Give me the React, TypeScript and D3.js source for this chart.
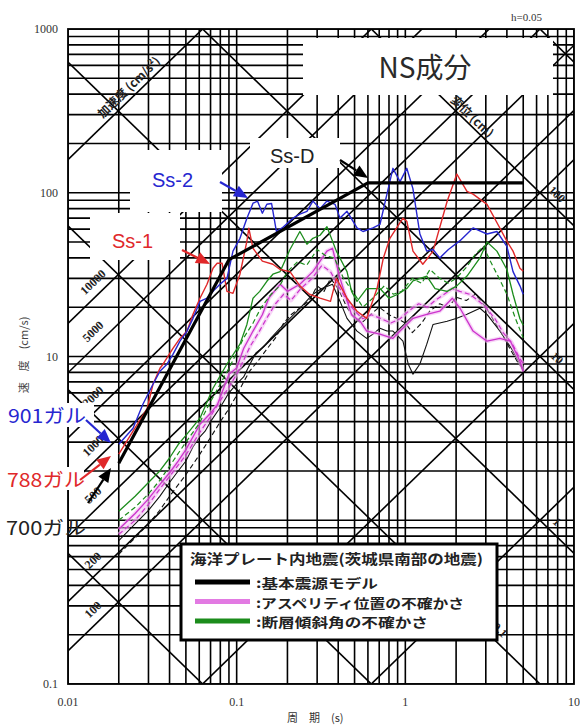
import React from 'react';
import * as d3 from 'd3';

const W = 580;
const H = 725;

// axis ticks (the "1" label is hidden under the 700ガル label in the reference)
const periodTicks = [0.01, 0.1, 1, 10];
const periodTickLabels = ['0.01', '0.1', '1', '10'];
const velocityTicks = [0.1, 10, 100, 1000];
const velocityTickLabels = ['0.1', '10', '100', '1000'];

// tripartite guide lines
const accelerationLines = [1, 10, 100, 200, 500, 1000, 2000, 5000, 10000, 100000];
const accelerationLabels = [100, 200, 500, 1000, 2000, 5000, 10000];
const displacementLines = [0.001, 0.01, 0.1, 1, 10, 100, 1000];
const displacementLabels = [0.1, 1, 10, 100];

// design spectrum Ss-D
const ssDPeriods = [0.02, 0.09, 0.6, 5.0];
const ssDVelocity = [2.23, 39, 115, 115];

// Ss-1 (red)
const ss1: [number, number][] = [
  [0.02, 2.53], [0.0243, 3.5], [0.0295, 4.83], [0.0319, 6.77], [0.0351, 8.48], [0.0366, 8.97],
  [0.0419, 11.2], [0.0461, 12.9], [0.0508, 14.3], [0.0551, 18.1], [0.0606, 22.7], [0.0667, 27.6],
  [0.0724, 34.6], [0.0766, 37.1], [0.082, 37.1], [0.0876, 25], [0.0951, 24.3], [0.1046, 31.8],
  [0.115, 50.6], [0.118, 60.7], [0.125, 45.8], [0.142, 38.2], [0.164, 36.6], [0.181, 34],
  [0.207, 33], [0.237, 27], [0.27, 24], [0.312, 22.7], [0.36, 21.7], [0.39, 30], [0.451, 22.7],
  [0.517, 18.9], [0.59, 17.1], [0.68, 26.1], [0.74, 39.8], [0.81, 52.7], [0.968, 69.9], [1.02, 67],
  [1.11, 44], [1.27, 36.6], [1.46, 44], [1.77, 88.8], [2.02, 130], [2.32, 102], [2.52, 98],
  [3.05, 85], [3.64, 60.7], [4.0, 50.6], [4.35, 44], [4.78, 34.6], [5.0, 33.2],
];

// Ss-2 (blue)
const ss2: [number, number][] = [
  [0.02, 2.91], [0.0243, 3.65], [0.0278, 5.11], [0.0319, 6.77], [0.0351, 8.13], [0.0386, 8.97],
  [0.0419, 10.3], [0.0461, 12.4], [0.0508, 14.3], [0.0551, 17.1], [0.0606, 21.7], [0.0667, 22.7],
  [0.0724, 25.0], [0.0796, 27.6], [0.0876, 30.0], [0.0951, 44], [0.1046, 52.7], [0.115, 69.9],
  [0.125, 86.3], [0.133, 88.8], [0.142, 75], [0.151, 85], [0.161, 86], [0.172, 58], [0.186, 61],
  [0.216, 70], [0.237, 74], [0.261, 77], [0.283, 89], [0.312, 80], [0.343, 89], [0.383, 85],
  [0.41, 70], [0.451, 77], [0.517, 61], [0.561, 58], [0.643, 61], [0.707, 64], [0.778, 98],
  [0.844, 141], [0.93, 117], [1.02, 141], [1.109, 106], [1.17, 74], [1.22, 56], [1.34, 44],
  [1.46, 45], [1.6, 40], [1.8, 45], [2.11, 51], [2.52, 61], [3.05, 56], [3.49, 58], [4.0, 47],
  [4.35, 33], [4.78, 27], [5.0, 24],
];

// base model (black) solid / dashed
const baseSolid: [number, number][] = [
  [0.02, 0.75], [0.025, 0.95], [0.03, 1.15], [0.035, 1.4], [0.04, 1.7], [0.045, 2.0], [0.05, 2.3],
  [0.055, 2.8], [0.06, 3.2], [0.065, 3.5], [0.07, 4.0], [0.08, 4.9], [0.09, 6.0], [0.1, 6.8],
  [0.11, 7.5], [0.12, 9.0], [0.13, 10.5], [0.145, 11.5], [0.16, 13], [0.181, 14.9], [0.2, 16.5],
  [0.237, 19.7], [0.283, 24], [0.32, 26], [0.37, 27.6], [0.41, 21.7], [0.451, 17.1], [0.517, 14.3],
  [0.59, 12.9], [0.643, 13.7], [0.707, 14.9], [0.778, 14.3], [0.844, 14.3], [0.968, 12.4],
  [1.04, 9.0], [1.11, 7.8], [1.22, 9.0], [1.34, 11.9], [1.46, 15.7], [1.77, 16.4], [2.02, 17.1],
  [2.32, 18.1], [2.77, 19.7], [3.05, 18.1], [3.64, 14.3], [4.35, 10.8], [4.78, 9.0], [5.0, 8.1],
];
const baseDashed: [number, number][] = [
  [0.02, 0.62], [0.025, 0.78], [0.03, 0.95], [0.035, 1.15], [0.04, 1.4], [0.05, 1.9], [0.06, 2.5],
  [0.07, 3.2], [0.08, 4.0], [0.09, 4.8], [0.1, 5.8], [0.11, 7.0], [0.12, 8.2], [0.135, 9.5],
  [0.15, 11], [0.17, 13], [0.19, 16], [0.21, 18], [0.24, 20], [0.27, 22], [0.3, 27], [0.33, 25],
  [0.36, 30], [0.4, 26], [0.45, 20], [0.5, 17], [0.55, 16], [0.62, 18], [0.7, 20], [0.8, 18],
  [0.9, 17], [1.0, 16], [1.1, 14], [1.25, 16], [1.4, 19], [1.6, 21], [1.8, 20], [2.0, 23],
  [2.3, 22], [2.6, 24], [3.0, 20], [3.3, 17], [3.7, 14], [4.2, 11], [4.7, 9], [5.0, 8.5],
];

// asperity position uncertainty (magenta)
const asperitySolid: [number, number][] = [
  [0.02, 0.88], [0.025, 1.1], [0.03, 1.35], [0.035, 1.65], [0.04, 1.95], [0.045, 2.3], [0.05, 2.7],
  [0.0606, 3.86], [0.07, 4.5], [0.077, 5.1], [0.09, 7.8], [0.1, 8.5], [0.11, 11.2], [0.125, 14.3],
  [0.142, 18], [0.155, 22.7], [0.181, 27.6], [0.2, 25], [0.237, 27.6], [0.283, 33], [0.343, 44],
  [0.37, 45.8], [0.41, 30], [0.48, 18], [0.54, 16.4], [0.59, 14.3], [0.707, 13.7], [0.844, 12.9],
  [0.93, 14.3], [1.11, 17.1], [1.34, 18.1], [1.6, 18.9], [1.9, 22.7], [2.11, 19.7], [2.52, 14.3],
  [3.05, 12.4], [3.64, 12.9], [4.2, 12.4], [4.78, 9.35], [5.0, 8.1],
];
const asperityDashed: [number, number][] = [
  [0.02, 0.82], [0.025, 1.0], [0.03, 1.25], [0.035, 1.55], [0.04, 1.85], [0.05, 2.5], [0.06, 3.4],
  [0.07, 4.3], [0.08, 5.4], [0.09, 6.5], [0.1, 7.8], [0.11, 9.5], [0.12, 11.5], [0.135, 14],
  [0.15, 17], [0.17, 21], [0.19, 24], [0.21, 22], [0.24, 26], [0.28, 30], [0.32, 36], [0.36, 33],
  [0.4, 27], [0.45, 22], [0.5, 19], [0.56, 17], [0.63, 18], [0.72, 17], [0.82, 16], [0.93, 17],
  [1.05, 19], [1.2, 21], [1.35, 20], [1.5, 22], [1.7, 24], [1.9, 26], [2.1, 25], [2.4, 24],
  [2.7, 22], [3.0, 20], [3.4, 17], [3.8, 14], [4.3, 12], [4.7, 10], [5.0, 9],
];

// fault dip angle uncertainty (green)
const dipSolid: [number, number][] = [
  [0.02, 1.135], [0.025, 1.4], [0.03, 1.7], [0.035, 2.0], [0.04, 2.4], [0.045, 2.9], [0.05, 3.3],
  [0.0606, 4.2], [0.0724, 6.4], [0.0876, 9.0], [0.1046, 11.9], [0.115, 15.7], [0.125, 22.7],
  [0.137, 25], [0.151, 28.8], [0.164, 31.8], [0.181, 33], [0.207, 45], [0.237, 58], [0.261, 48.5],
  [0.283, 52.7], [0.312, 55], [0.343, 62], [0.39, 44], [0.451, 33], [0.48, 25], [0.517, 21.7],
  [0.59, 26], [0.707, 26], [0.8, 22.7], [0.904, 24], [1.02, 26], [1.11, 29], [1.34, 31], [1.5, 26],
  [1.77, 25], [2.02, 27], [2.32, 31], [2.77, 40], [3.05, 50], [3.49, 44], [4.0, 34], [4.35, 24],
  [4.78, 17], [5.0, 15.5],
];
const dipDashed: [number, number][] = [
  [0.02, 1.0], [0.025, 1.2], [0.03, 1.45], [0.035, 1.75], [0.042, 2.3], [0.05, 3.0], [0.06, 3.9],
  [0.07, 5.3], [0.08, 6.8], [0.09, 8.5], [0.1, 10.5], [0.11, 13], [0.125, 16], [0.14, 20],
  [0.16, 24], [0.18, 27], [0.2, 33], [0.23, 38], [0.26, 36], [0.3, 45], [0.34, 41], [0.38, 40],
  [0.43, 30], [0.5, 24], [0.56, 20], [0.65, 23], [0.75, 27], [0.85, 24], [0.95, 25], [1.1, 30],
  [1.25, 28], [1.4, 34], [1.6, 30], [1.8, 28], [2.0, 30], [2.3, 35], [2.6, 42], [2.9, 47],
  [3.2, 38], [3.6, 30], [4.0, 24], [4.5, 17], [5.0, 13],
];

const legendTitle = '海洋プレート内地震(茨城県南部の地震)';
const legendItems = [':基本震源モデル', ':アスペリティ位置の不確かさ', ':断層傾斜角の不確かさ'];
const legendWidths = [122, 208, 172];
const legendColors = ['#000000', '#e27ae2', '#1c8c1c'];

const TWO_PI = 2 * Math.PI;

function Arrow({ x1, y1, x2, y2, color }: { x1: number; y1: number; x2: number; y2: number; color: string }) {
  const ang = Math.atan2(y2 - y1, x2 - x1);
  const hl = 14;
  const hw = 6;
  const bx = x2 - hl * Math.cos(ang);
  const by = y2 - hl * Math.sin(ang);
  const px = -Math.sin(ang) * hw;
  const py = Math.cos(ang) * hw;
  return (
    <g>
      <line x1={x1} y1={y1} x2={bx} y2={by} stroke={color} strokeWidth={2.2} />
      <polygon points={`${x2},${y2} ${bx + px},${by + py} ${bx - px},${by - py}`} fill={color} />
    </g>
  );
}

export default function App() {
  const xS = d3.scaleLog().domain([0.01, 10]).range([68, 574]);
  const yS = d3.scaleLog().domain([0.1, 1000]).range([684, 29]);
  const x0 = 68, x1 = 574, y0 = 29, y1 = 684;
  const line = d3.line<[number, number]>().x((d) => xS(d[0])).y((d) => yS(d[1]));
  const ssD: [number, number][] = ssDPeriods.map((t, i) => [t, ssDVelocity[i]]);

  const diagAngle = (Math.atan((y1 - y0) / 4 / ((x1 - x0) / 3)) * 180) / Math.PI;
  const gridColor = '#000';
  const gw = 1.6;

  const accLine = (a: number) => ({
    xa: xS(0.001), ya: yS((a * 0.001) / TWO_PI), xb: xS(100), yb: yS((a * 100) / TWO_PI),
  });
  const dispLine = (d: number) => ({
    xa: xS(0.001), ya: yS((TWO_PI * d) / 0.001), xb: xS(100), yb: yS((TWO_PI * d) / 100),
  });

  const accLabelX = 93;
  const accLabelT = xS.invert(accLabelX);
  const dispLabelX: Record<string, number> = { '0.1': 500, '1': 557, '10': 557, '100': 557 };

  const jp = '"Noto Sans CJK JP", "Noto Sans", sans-serif';
  const serif = '"Liberation Serif", "DejaVu Serif", serif';
  const sans = '"Liberation Sans", Arial, sans-serif';

  const accTitleT = xS.invert(128);
  const dispTitleT = xS.invert(473);

  return (
    <svg width={W} height={H} style={{ position: 'absolute', left: 0, top: 0, background: '#fff' }}>
      <defs>
        <clipPath id="plot">
          <rect x={x0} y={y0} width={x1 - x0} height={y1 - y0} />
        </clipPath>
      </defs>
      <rect x={0} y={0} width={W} height={H} fill="#fff" />
      <g clipPath="url(#plot)">
        {xS.ticks().map((t, i) => (
          <line key={'vx' + i} x1={xS(t)} x2={xS(t)} y1={y0} y2={y1} stroke={gridColor} strokeWidth={gw} />
        ))}
        {yS.ticks().map((v, i) => (
          <line key={'hy' + i} x1={x0} x2={x1} y1={yS(v)} y2={yS(v)} stroke={gridColor} strokeWidth={gw} />
        ))}
        {accelerationLines.map((a) => {
          const p = accLine(a);
          return <line key={'a' + a} x1={p.xa} y1={p.ya} x2={p.xb} y2={p.yb} stroke={gridColor} strokeWidth={gw} />;
        })}
        {displacementLines.map((d) => {
          const p = dispLine(d);
          return <line key={'d' + d} x1={p.xa} y1={p.ya} x2={p.xb} y2={p.yb} stroke={gridColor} strokeWidth={gw} />;
        })}
      </g>
      <rect x={x0} y={y0} width={x1 - x0} height={y1 - y0} fill="none" stroke={gridColor} strokeWidth={1.8} />

      {/* tripartite labels */}
      {accelerationLabels.map((a) => {
        const y = yS((a * accLabelT) / TWO_PI) - 17;
        return (
          <text key={'al' + a} x={accLabelX} y={y} transform={`rotate(${-diagAngle},${accLabelX},${y})`}
            textAnchor="middle" dominantBaseline="central" fontFamily={serif} fontWeight={700} fontSize={12} fill="#222">
            {a}
          </text>
        );
      })}
      {(() => {
        const x = 128;
        const y = yS((100000 * accTitleT) / TWO_PI) - 15;
        return (
          <text x={x} y={y} transform={`rotate(${-diagAngle},${x},${y})`} textAnchor="middle" dominantBaseline="central"
            fontFamily={jp} fontWeight={700} fontSize={12} fill="#222">加速度 (cm/s²)</text>
        );
      })()}
      {displacementLabels.map((d) => {
        const x = dispLabelX[String(d)];
        const t = xS.invert(x);
        const y = yS((TWO_PI * d) / t) - 15;
        return (
          <text key={'dl' + d} x={x} y={y} transform={`rotate(${diagAngle},${x},${y})`}
            textAnchor="middle" dominantBaseline="central" fontFamily={serif} fontWeight={700} fontSize={12} fill="#222">
            {d}
          </text>
        );
      })}
      {(() => {
        const x = 473;
        const y = yS((TWO_PI * 100) / dispTitleT) - 12;
        return (
          <text x={x} y={y} transform={`rotate(${diagAngle},${x},${y})`} textAnchor="middle" dominantBaseline="central"
            fontFamily={jp} fontWeight={700} fontSize={12} fill="#222">変位 (cm)</text>
        );
      })()}

      {/* white label backgrounds */}
      <rect x={303} y={38} width={250} height={57} fill="#fff" />
      <rect x={250} y={138} width={90} height={30} fill="#fff" />
      <rect x={130} y={150} width={92} height={62} fill="#fff" />
      <rect x={90} y={213} width={90} height={47} fill="#fff" />

      {/* spectra */}
      <g fill="none" strokeLinejoin="round">
        <path d={line(baseDashed) || ''} stroke="#111" strokeWidth={1.1} strokeDasharray="5,3" />
        <path d={line(baseSolid) || ''} stroke="#111" strokeWidth={1.1} />
        <path d={line(asperityDashed) || ''} stroke="#f2b8f2" strokeWidth={4} opacity={0.6} />
        <path d={line(asperitySolid) || ''} stroke="#f2b8f2" strokeWidth={4} opacity={0.6} />
        <path d={line(asperityDashed) || ''} stroke="#cc33cc" strokeWidth={1.2} strokeDasharray="5,3" />
        <path d={line(asperitySolid) || ''} stroke="#cc33cc" strokeWidth={1.3} />
        <path d={line(dipDashed) || ''} stroke="#1c8c1c" strokeWidth={1.2} strokeDasharray="5,3" />
        <path d={line(dipSolid) || ''} stroke="#1c8c1c" strokeWidth={1.3} />
        <path d={line(ss1) || ''} stroke="#e0282a" strokeWidth={1.4} />
        <path d={line(ss2) || ''} stroke="#2626d0" strokeWidth={1.4} />
        <path d={line(ssD) || ''} stroke="#000" strokeWidth={3.2} />
      </g>

      {/* axis labels */}
      {velocityTicks.map((v, i) => (
        <text key={'yt' + i} x={58} y={yS(v) + 4} textAnchor="end" fontFamily={serif} fontSize={12} fill="#333">
          {velocityTickLabels[i]}
        </text>
      ))}
      {periodTicks.map((t, i) => (
        <text key={'xt' + i} x={xS(t)} y={706} textAnchor="middle" fontFamily={serif} fontSize={12} fill="#333">
          {periodTickLabels[i]}
        </text>
      ))}
      <text x={287} y={722} fontFamily={jp} fontSize={11} fill="#333">周　期　(s)</text>
      <text x={23} y={355} transform="rotate(-90,23,355)" textAnchor="middle" dominantBaseline="central"
        fontFamily={jp} fontSize={11} fill="#444">速　度　(cm/s)</text>
      <text x={511} y={21} fontFamily={serif} fontSize={11} fill="#333">h=0.05</text>

      {/* title */}
      <text x={425} y={78} textAnchor="middle" fontFamily={jp} fontSize={28} fill="#2a2a2a">NS成分</text>

      {/* spectrum labels */}
      <text x={270} y={163} fontFamily={sans} fontSize={20} fill="#222">Ss-D</text>
      <Arrow x1={340} y1={160} x2={368} y2={178} color="#000" />
      <text x={152} y={187} fontFamily={sans} fontSize={20} fill="#2626d0">Ss-2</text>
      <Arrow x1={220} y1={182} x2={248} y2={198} color="#2626d0" />
      <text x={112} y={248} fontFamily={sans} fontSize={20} fill="#e0282a">Ss-1</text>
      <Arrow x1={182} y1={250} x2={210} y2={264} color="#e0282a" />

      <rect x={4} y={403} width={90} height={24} fill="#fff" />
      <text x={8} y={423} fontFamily={jp} fontSize={19} fill="#2626d0" textLength={78} lengthAdjust="spacingAndGlyphs">901ガル</text>
      <Arrow x1={86} y1={420} x2={111} y2={443} color="#2626d0" />
      <rect x={4} y={467} width={80} height={23} fill="#fff" />
      <text x={7} y={487} fontFamily={jp} fontSize={19} fill="#e0282a" textLength={78} lengthAdjust="spacingAndGlyphs">788ガル</text>
      <Arrow x1={80} y1={480} x2={111} y2={456} color="#e0282a" />
      <rect x={4} y={512} width={62} height={28} fill="#fff" />
      <text x={6} y={535} fontFamily={jp} fontSize={19} fill="#222" textLength={80} lengthAdjust="spacingAndGlyphs">700ガル</text>
      <Arrow x1={88} y1={503} x2={111} y2={468} color="#000" />

      {/* legend */}
      <rect x={181} y={544} width={316} height={96} fill="#fff" stroke="#000" strokeWidth={3} />
      <text x={190} y={564} fontFamily={jp} fontWeight={700} fontSize={14} fill="#222" textLength={293} lengthAdjust="spacingAndGlyphs">{legendTitle}</text>
      {legendItems.map((label, i) => {
        const y = 582 + i * 19.5;
        return (
          <g key={'lg' + i}>
            <line x1={195} x2={250} y1={y} y2={y} stroke={legendColors[i]} strokeWidth={5} />
            <text x={256} y={y + 6} fontFamily={jp} fontWeight={700} fontSize={13} fill="#222"
              textLength={legendWidths[i]} lengthAdjust="spacingAndGlyphs">{label}</text>
          </g>
        );
      })}
    </svg>
  );
}
